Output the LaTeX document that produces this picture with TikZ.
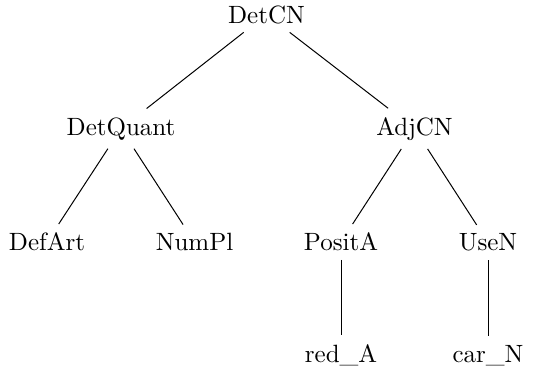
\documentclass[tikz,border=0pt]{standalone}
\begin{document}
\begin{tikzpicture}[x=1pt,y=1pt,
  treenode/.style={anchor=base},
  edge/.style={draw=black, line width=0.4pt}]
\useasboundingbox (0,0) rectangle (215.6,-147.6);
% root
\node[treenode] (detcn) at (106.6,-9.2) {DetCN};
% first level
\node[treenode] (detquant) at (48.4,-54) {DetQuant};
\node[treenode] (adjcn) at (165.8,-54) {AdjCN};
% second level
\node[treenode] (defart) at (18.8,-100.3) {DefArt};
\node[treenode] (numpl) at (77.8,-100.3) {NumPl};
\node[treenode] (posita) at (136.4,-100.3) {PositA};
\node[treenode] (usen) at (195.2,-100.3) {UseN};
% leaves
\node[treenode] (reda) at (136.4,-144.8) {red\_A};
\node[treenode] (carn) at (195.2,-144.8) {car\_N};
% edges
\path[edge] (detcn) -- (detquant);
\path[edge] (detcn) -- (adjcn);
\path[edge] (detquant) -- (defart);
\path[edge] (detquant) -- (numpl);
\path[edge] (adjcn) -- (posita);
\path[edge] (adjcn) -- (usen);
\path[edge] (posita) -- (reda);
\path[edge] (usen) -- (carn);
\end{tikzpicture}
\end{document}
